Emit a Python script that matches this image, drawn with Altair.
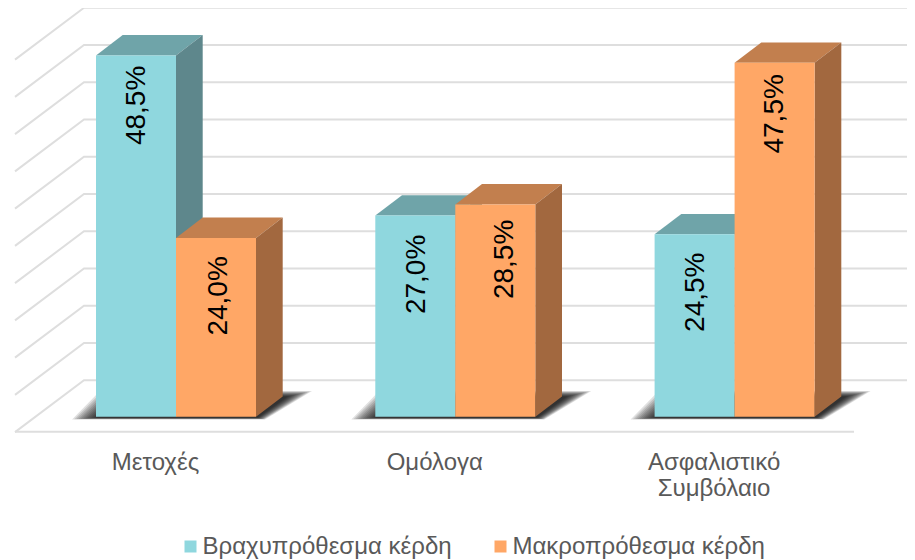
import altair as alt
import pandas as pd
import json

# ---- values
categories = ["Μετοχές", "Ομόλογα", ["Ασφαλιστικό", "Συμβόλαιο"]]
series = ["Βραχυπρόθεσμα κέρδη", "Μακροπρόθεσμα κέρδη"]
short_term = [48.5, 27.0, 24.5]
long_term = [24.0, 28.5, 47.5]
grid_levels = [0, 5, 10, 15, 20, 25, 30, 35, 40, 45, 50]

# ---- styling
FRONT = ["#8FD7DE", "#FFA766"]
TOP = ["#6FA4A9", "#C27F4E"]
SIDE = ["#5E878C", "#A2683F"]
FONT = "Liberation Sans"
GRID = "#DEDEDE"
TEXT = "#595959"

# ---- layout (pixels of the 915x560 page)
PX_X0, PX_X1, PX_Y0, PX_Y1 = 8.0, 907.0, 8.0, 440.0
CAT_PX = 279.3
ORIGIN_PX = 176.0        # centre of first group
BASE_PX = 416.7          # value 0 on the bars' front
UNIT_PX = 7.45           # pixels per percentage point
px_x = lambda p: (p - ORIGIN_PX) / CAT_PX
px_y = lambda p: (BASE_PX - p) / UNIT_PX
BAR_W = 80 / CAT_PX
DEPTH_X = 26.7 / CAT_PX
DEPTH_Y = 20.3 / UNIT_PX
x_scale = alt.Scale(domain=[px_x(PX_X0), px_x(PX_X1)], nice=False, zero=False)
y_scale = alt.Scale(domain=[px_y(PX_Y1), px_y(PX_Y0)], nice=False, zero=False)

# label placement inside the bars (pixels)
label_shift = [[0.5, 1.2, 1.5], [3.0, 9.5, 0.5]]
label_drop = [[50, 58.8, 58], [58, 55, 51]]

# ---- tables
bars, tops, sides, labels = [], [], [], []
for s, vals in enumerate([short_term, long_term]):
    for c, v in enumerate(vals):
        x0 = c + (s - 1) * BAR_W
        x1 = x0 + BAR_W
        key = f"{s}-{c}"
        bars.append(dict(series=series[s], x0=x0, x1=x1, v=v))
        tops += [dict(s=s, key=key, y=v, a=x0, b=x1),
                 dict(s=s, key=key, y=v + DEPTH_Y, a=x0 + DEPTH_X, b=x1 + DEPTH_X)]
        sides += [dict(s=s, key=key, x=x1, lo=0, hi=v),
                  dict(s=s, key=key, x=x1 + DEPTH_X, lo=DEPTH_Y, hi=v + DEPTH_Y)]
        labels.append(dict(
            text=f"{v:.1f}".replace(".", ",") + "%",
            x=(x0 + x1) / 2 + label_shift[s][c] / CAT_PX,
            y=v - label_drop[s][c] / UNIT_PX))

grid = []
for lv in grid_levels:
    y_back = lv + (BASE_PX - 380.3) / UNIT_PX
    y_front = y_back - 51.8 / UNIT_PX
    grid += [dict(k=lv, o=0, x=px_x(15), y=y_front),
             dict(k=lv, o=1, x=px_x(84), y=y_back),
             dict(k=lv, o=2, x=px_x(PX_X1), y=y_back)]
floor = [dict(k="f", o=0, x=px_x(15), y=px_y(431.7)),
         dict(k="f", o=1, x=px_x(854), y=px_y(431.7))]

shadow = []
for c in range(len(categories)):
    left = c - BAR_W
    right = c + BAR_W
    for k in range(12):
        key = f"{c}-{k}"
        ins = k * 2.2 / CAT_PX
        shadow += [
            dict(key=key, y=px_y(419.4 - k * 0.15),
                 a=left - 24 / CAT_PX + ins, b=right + 9 / CAT_PX - ins * 0.3),
            dict(key=key, y=px_y(391 + k * 0.5),
                 a=left + 4 / CAT_PX + ins, b=right + 56 / CAT_PX - ins),
        ]

# ---- shared axis
tick_shift = -21 / CAT_PX
tick_values = [i + tick_shift for i in range(len(categories))]
label_expr = f"{json.dumps(categories, ensure_ascii=False)}[round(datum.value - ({tick_shift}))]"
x_axis = alt.Axis(
    values=tick_values, labelExpr=label_expr, domain=False, ticks=False, grid=False,
    labelFont=FONT, labelFontSize=24, labelColor=TEXT, labelPadding=10,
    labelLineHeight=26, labelAngle=0, labelOverlap=False, labelFlush=False, title=None)

X = lambda f: alt.X(f, scale=x_scale, axis=x_axis, title=None)
Y = lambda f: alt.Y(f, scale=y_scale, axis=None, title=None)

# ---- layers
grid_layer = alt.Chart(pd.DataFrame(grid + floor)).mark_line(
    color=GRID, strokeWidth=2, clip=True
).encode(x=X("x:Q"), y=Y("y:Q"), detail="k:N", order="o:Q")

shadow_layer = alt.Chart(pd.DataFrame(shadow)).mark_area(
    orient="horizontal", color="#000000", opacity=0.12
).encode(y=Y("y:Q"), x=X("a:Q"), x2="b:Q", detail="key:N")

faces = []
top_df, side_df = pd.DataFrame(tops), pd.DataFrame(sides)
for s in range(2):
    faces.append(alt.Chart(top_df[top_df.s == s]).mark_area(
        orient="horizontal", color=TOP[s]
    ).encode(y=Y("y:Q"), x=X("a:Q"), x2="b:Q", detail="key:N"))
    faces.append(alt.Chart(side_df[side_df.s == s]).mark_area(
        orient="vertical", color=SIDE[s]
    ).encode(x=X("x:Q"), y=Y("lo:Q"), y2="hi:Q", detail="key:N"))

front = alt.Chart(pd.DataFrame(bars)).mark_bar(strokeWidth=0).encode(
    x=X("x0:Q"), x2="x1:Q", y=Y("v:Q"), y2=alt.datum(0),
    color=alt.Color("series:N", scale=alt.Scale(domain=series, range=FRONT), sort=series,
                    legend=alt.Legend(
                        title=None, orient="none", legendX=170.5, legendY=526.5,
                        direction="horizontal", symbolType="square", symbolSize=144,
                        symbolStrokeWidth=0, labelFont=FONT, labelFontSize=24,
                        labelColor=TEXT, labelOffset=0, columnPadding=36,
                        labelLimit=400)))

text = alt.Chart(pd.DataFrame(labels)).mark_text(
    angle=270, align="center", baseline="middle", font=FONT, fontSize=28, color="#000000"
).encode(x=X("x:Q"), y=Y("y:Q"), text="text:N")

chart = alt.layer(grid_layer, shadow_layer, *faces, front, text).properties(
    width=PX_X1 - PX_X0, height=PX_Y1 - PX_Y0,
    autosize=alt.AutoSizeParams(type="none"),
    padding=alt.Padding(left=0, top=0, right=0, bottom=120),
).configure_view(stroke=None)

chart.save("out.html", embed_options={"renderer": "svg", "actions": False})
